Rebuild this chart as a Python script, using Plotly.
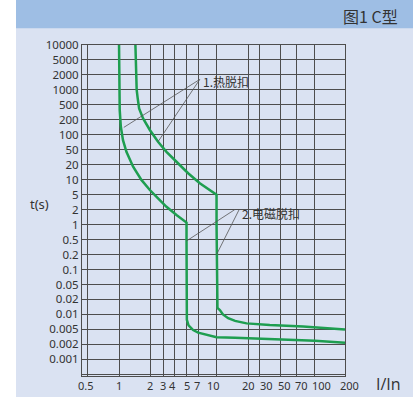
import numpy as np
import plotly.graph_objects as go

# ---- data ----
X_TICKS = [0.5, 1, 2, 3, 4, 5, 7, 10, 20, 30, 50, 70, 100, 200]
X_LABELS = ["0.5", "1", "2", "3", "4", "5", "7", "10", "20", "30", "50", "70", "100", "200"]
Y_TICKS = [0.001, 0.002, 0.005, 0.01, 0.02, 0.05, 0.1, 0.2, 0.5, 1, 2, 5, 10,
           20, 50, 100, 200, 500, 1000, 2000, 5000, 10000]
Y_LABELS = ["0.001", "0.002", "0.005", "0.01", "0.02", "0.05", "0.1", "0.2", "0.5",
            "1", "2", "5", "10", "20", "50", "100", "200", "500", "1000", "2000",
            "5000", "10000"]

# lower boundary curve (I/In, t)
CURVE_LOW_I = [1.0, 1.0, 1.015, 1.04, 1.09, 1.175, 1.36, 1.63, 1.96, 2.54, 3.26, 4.13, 5.0,
               5.0, 5.0, 5.05, 5.3, 6.06, 7.0, 8.5, 10, 15, 38, 100, 200]
CURVE_LOW_T = [10000, 1000, 362, 145, 78, 44, 18.3, 9.9, 6.2, 3.98, 2.38, 1.56, 1.1,
               0.5, 0.0097, 0.0078, 0.006, 0.0048, 0.0041, 0.0035, 0.0031, 0.003, 0.0028, 0.0025, 0.0022]
# upper boundary curve (I/In, t)
CURVE_HIGH_I = [1.43, 1.45, 1.47, 1.5, 1.55, 1.69, 1.96, 2.54, 3.26, 4.13, 5.24, 7.23, 10.0,
                10.0, 10.2, 10.75, 11.5, 12.9, 15, 19.3, 38.2, 79.4, 200]
CURVE_HIGH_T = [10000, 2000, 1000, 700, 404, 219, 125, 72.7, 44, 24, 13.5, 8.5, 5.0,
                1.0, 0.0135, 0.0122, 0.0100, 0.0084, 0.0074, 0.0066, 0.0061, 0.0057, 0.005]

LABEL1 = "1.热脱扣"
LABEL1_AT = (7.47, 1505)
LEADER1_FROM = (7.23, 1625)
LEADER1_TO = [(1.11, 141), (2.54, 72.7)]
LABEL2 = "2.电磁脱扣"
LABEL2_AT = (16.7, 1.7)
LEADER2_FROM = [(14.9, 2.0), (16.4, 2.0)]
LEADER2_TO = [(5.0, 0.46), (10, 0.2)]

TITLE = "图1 C型"
X_TITLE = "I/In"
Y_TITLE = "t(s)"

# ---- stylised (non-uniform) axis scales: position of each tick on the axis ----
X_POS = [0, 32, 63.7, 76, 87.7, 99.4, 111, 129.4, 161, 172.7, 193.4, 209.4, 227.7, 257.7]
X_LABEL_POS = [-0.6, 32, 62.7, 75.7, 85.7, 99.4, 110.2, 126.7, 161.7, 179.4, 197.7, 214.4, 234.4, 261.7]
X_RANGE = [-5, 257.7]
Y_POS = list(range(1, 23))


def xp(v):
    return np.interp(np.log10(v), np.log10(X_TICKS), X_POS)


def yp(v):
    return np.interp(np.log10(v), np.log10(Y_TICKS), Y_POS)


GREEN = "#1e9e50"
GRID = "#4d4d4d"
TXT = "#333333"
FONT = "Noto Sans"
CJK = "Noto Sans CJK SC"

fig = go.Figure()
for xs, ts in [(CURVE_LOW_I, CURVE_LOW_T), (CURVE_HIGH_I, CURVE_HIGH_T)]:
    fig.add_trace(go.Scatter(x=xp(np.array(xs)), y=yp(np.array(ts)), mode="lines",
                             line=dict(color=GREEN, width=2.5), hoverinfo="skip",
                             showlegend=False))

leaders = [(LEADER1_FROM, p) for p in LEADER1_TO] + list(zip(LEADER2_FROM, LEADER2_TO))
for a, b in leaders:
    fig.add_trace(go.Scatter(x=xp(np.array([a[0], b[0]])), y=yp(np.array([a[1], b[1]])),
                             mode="lines", line=dict(color="#555555", width=0.8),
                             hoverinfo="skip", showlegend=False))

W, H = 415, 404
ML, MR, MT, MB = 82, 70, 45, 28
PW, PH = W - ML - MR, H - MT - MB


def px(xpix):
    return (xpix - ML) / PW


def py(ypix):
    return (H - MB - ypix) / PH


fig.add_annotation(x=xp(LABEL1_AT[0]), y=yp(LABEL1_AT[1]), text=LABEL1, showarrow=False,
                   xanchor="left", yanchor="middle", font=dict(family=CJK, size=12, color=TXT))
fig.add_annotation(x=xp(LABEL2_AT[0]), y=yp(LABEL2_AT[1]), text=LABEL2, showarrow=False,
                   xanchor="left", yanchor="middle", font=dict(family=CJK, size=12, color=TXT))
fig.add_annotation(x=px(400), y=py(15.7), xref="paper", yref="paper", text=TITLE,
                   showarrow=False, xanchor="right", yanchor="middle",
                   font=dict(family=CJK, size=16, color=TXT))
fig.add_annotation(x=px(39), y=py(204), xref="paper", yref="paper", text=Y_TITLE,
                   showarrow=False, xanchor="center", yanchor="middle",
                   font=dict(family=FONT, size=13, color=TXT))
fig.add_annotation(x=px(388), y=py(384), xref="paper", yref="paper", text=X_TITLE,
                   showarrow=False, xanchor="center", yanchor="middle",
                   font=dict(family="Open Sans", size=16, color=TXT))
for pos, lab in zip(X_LABEL_POS, X_LABELS):
    fig.add_annotation(x=(pos - X_RANGE[0]) / (X_RANGE[1] - X_RANGE[0]), y=py(385),
                       xref="paper", yref="paper", text=lab,
                       showarrow=False, xanchor="center", yanchor="middle",
                       font=dict(family=FONT, size=11, color=TXT))

fig.add_shape(type="rect", xref="paper", yref="paper", x0=px(16), x1=px(413), y0=py(397), y1=py(-2),
              fillcolor="#dae2f2", line=dict(width=0), layer="below")
fig.add_shape(type="rect", xref="paper", yref="paper", x0=px(16), x1=px(413), y0=py(28.3), y1=py(-2),
              fillcolor="#9ebee4", line=dict(width=0), layer="below")

fig.update_xaxes(range=X_RANGE, tickmode="array", tickvals=X_POS, ticktext=X_LABELS,
                 showticklabels=False,
                 showgrid=True, gridcolor=GRID, gridwidth=1, zeroline=False,
                 showline=True, linecolor=GRID, linewidth=1, mirror=True, tickangle=0,
                 automargin=False, ticks="", fixedrange=True)
fig.update_yaxes(range=[-0.115, 22], tickmode="array", tickvals=[0] + Y_POS,
                 ticktext=[""] + Y_LABELS, automargin=False,
                 showgrid=True, gridcolor=GRID, gridwidth=1, zeroline=False,
                 showline=True, linecolor=GRID, linewidth=1, mirror=True,
                 ticks="", tickfont=dict(family=FONT, size=11.5, color=TXT), fixedrange=True)

fig.update_layout(width=W, height=H, autosize=False,
                  margin=dict(l=ML, r=MR, t=MT, b=MB, pad=0),
                  paper_bgcolor="white", plot_bgcolor="rgba(0,0,0,0)",
                  showlegend=False)

fig.write_html("out.html", config={"displayModeBar": False},
               post_script="document.body.style.margin='0';document.body.style.overflow='hidden';")
